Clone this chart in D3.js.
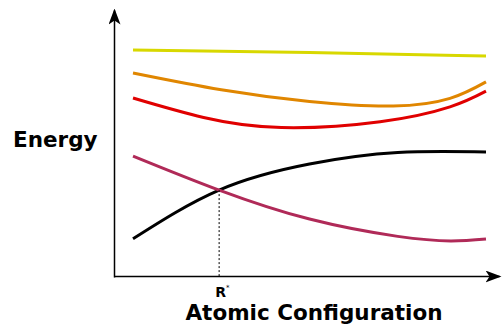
<!DOCTYPE html>
<html>
<head>
<meta charset="utf-8">
<script src="https://cdn.jsdelivr.net/npm/d3@7"></script>
<style>
  body { margin: 0; background: #fff; }
  text { font-family: "DejaVu Sans", sans-serif; font-weight: bold; }
</style>
</head>
<body>
<div id="chart"></div>
<script>
// configuration coordinate (arbitrary units) and energy (arbitrary units)
var yellowX = [0, 5, 10];
var yellowY = [85.0, 84.0, 82.7];
var orangeX = [0, 2.5, 5, 7.37, 8.98, 10];
var orangeY = [76.3, 70.0, 65.6, 63.9, 66.8, 73.0];
var redX = [0, 2, 4.2, 7, 8.98, 10];
var redY = [66.9, 59.6, 55.8, 58.0, 63.6, 69.5];
var blackX = [0, 2.44, 5, 7.5, 10];
var blackY = [14.0, 32.3, 42.1, 46.4, 46.6];
var purpleX = [0, 2.44, 5, 7.5, 9, 10];
var purpleY = [45.1, 32.3, 21.4, 14.9, 13.2, 13.9];
var rStar = 2.44, rStarEnergy = 32.3;

var series = [
    { name: "yellow", color: "#d8d800", xs: yellowX, ys: yellowY },
    { name: "orange", color: "#e08600", xs: orangeX, ys: orangeY },
    { name: "red",    color: "#e00000", xs: redX,    ys: redY },
    { name: "black",  color: "#000000", xs: blackX,  ys: blackY },
    { name: "purple", color: "#b02a58", xs: purpleX, ys: purpleY }
];

var width = 502, height = 327;
var svg = d3.select("#chart").append("svg")
    .attr("width", width)
    .attr("height", height);

var x = d3.scaleLinear().domain([0, 10]).range([133, 486]);
var y = d3.scaleLinear().domain([0, 100]).range([276, 10]);

// arrow marker
svg.append("defs").append("marker")
    .attr("id", "arrow")
    .attr("viewBox", "0 0 16 12")
    .attr("refX", 14).attr("refY", 6)
    .attr("markerWidth", 16).attr("markerHeight", 12)
    .attr("markerUnits", "userSpaceOnUse")
    .attr("orient", "auto")
    .append("path")
    .attr("d", "M0,0 L16,6 L0,12 L4,6 Z")
    .attr("fill", "#000");

// axes (no ticks)
var xAxis = svg.append("g")
    .attr("transform", "translate(0," + y(0) + ")")
    .call(d3.axisBottom(d3.scaleLinear().range([114, 499])).tickValues([]).tickSizeOuter(0));
xAxis.select(".domain").attr("stroke", "#000").attr("stroke-width", 1.5)
    .attr("marker-end", "url(#arrow)");

var yAxis = svg.append("g")
    .attr("transform", "translate(114,0)")
    .call(d3.axisLeft(d3.scaleLinear().range([277, 10])).tickValues([]).tickSizeOuter(0));
yAxis.select(".domain").attr("stroke", "#000").attr("stroke-width", 1.5)
    .attr("marker-end", "url(#arrow)");

// curves
var line = d3.line()
    .x(function(d) { return x(d[0]); })
    .y(function(d) { return y(d[1]); })
    .curve(d3.curveNatural);

svg.selectAll(".curve")
    .data(series)
    .enter()
    .append("path")
    .attr("class", "curve")
    .attr("fill", "none")
    .attr("stroke", function(d) { return d.color; })
    .attr("stroke-width", 3)
    .attr("d", function(d) { return line(d3.zip(d.xs, d.ys)); });

// crossing point marker
svg.append("line")
    .attr("x1", x(rStar)).attr("x2", x(rStar))
    .attr("y1", y(rStarEnergy)).attr("y2", y(0))
    .attr("stroke", "#000")
    .attr("stroke-width", 1)
    .attr("stroke-dasharray", "2,2");

var rLabel = svg.append("text")
    .attr("x", x(rStar) - 4)
    .attr("y", 297)
    .attr("font-size", 14)
    .text("R");
rLabel.append("tspan")
    .attr("dy", -7)
    .attr("font-size", 7)
    .attr("font-weight", "normal")
    .text("*");

// axis titles
svg.append("text")
    .attr("x", 13).attr("y", 147)
    .attr("font-size", 21.5)
    .text("Energy");

svg.append("text")
    .attr("x", 314).attr("y", 320)
    .attr("text-anchor", "middle")
    .attr("font-size", 21.5)
    .text("Atomic Configuration");
</script>
</body>
</html>
